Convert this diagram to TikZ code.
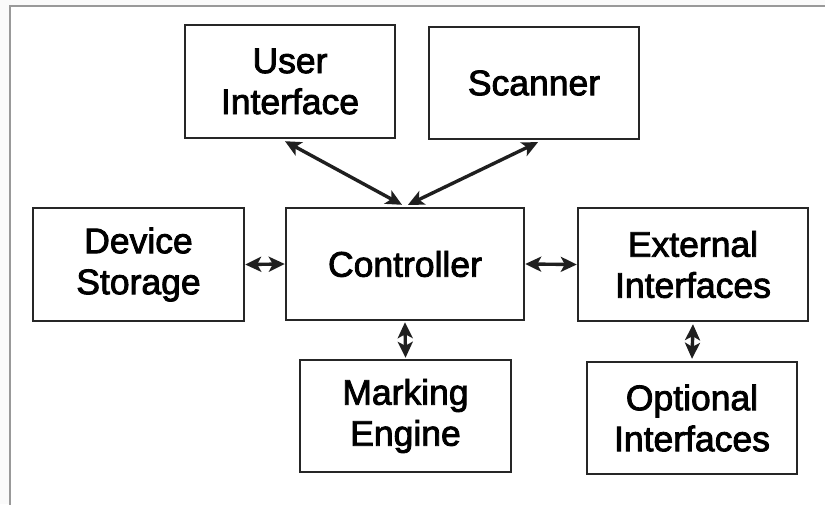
\documentclass[tikz,border=0pt]{standalone}
\usepackage{fontspec}
\setmainfont{Liberation Sans}
\newfontfamily\boxfont[FakeBold=2.4]{Liberation Sans}
\usetikzlibrary{arrows.meta}
\begin{document}
\begin{tikzpicture}[x=1pt,y=-1pt,
  blk/.style={draw=black!85, line width=2.4pt, fill=white, inner sep=0pt,
    align=center, font=\boxfont\fontsize{35.5}{41}\selectfont, text=black},
  arr/.style={line width=3.4pt, draw=black!88, {Stealth[length=16pt,width=15pt,inset=4pt]}-{Stealth[length=16pt,width=15pt,inset=4pt]}}]
\useasboundingbox (0,0) rectangle (825,504);
\fill[white!98!black] (0,0) rectangle (825,504);
\draw[gray!80, line width=2pt, fill=white] (10,6) rectangle (840,520);
\node[blk, minimum width=210pt, minimum height=113pt] (ui) at (290,81.5) {User\\Interface};
\node[blk, minimum width=210pt, minimum height=112pt] (sc) at (534,83) {Scanner};
\node[blk, minimum width=211pt, minimum height=113pt] (ds) at (138.5,264.5) {Device\\Storage};
\node[blk, minimum width=238pt, minimum height=112pt] (ct) at (405,264) {Controller};
\node[blk, minimum width=230pt, minimum height=113pt] (ex) at (693,264.5) {External\\Interfaces};
\node[blk, minimum width=211pt, minimum height=112pt] (me) at (405.5,416) {Marking\\Engine};
\node[blk, minimum width=210pt, minimum height=112pt] (oi) at (692,418) {Optional\\Interfaces};
\draw[arr] ([xshift=-5pt,yshift=-2pt]ui.south) -- ([xshift=-3pt,yshift=2pt]ct.north);
\draw[arr] ([xshift=4pt,yshift=-2pt]sc.south) -- ([xshift=3pt,yshift=2pt]ct.north);
\draw[arr] (ds.east) -- (ct.west);
\draw[arr] (ct.east) -- (ex.west);
\draw[arr] ([yshift=-1pt]ct.south) -- ([yshift=1pt]me.north);
\draw[arr] ([yshift=-2pt]ex.south) -- ([yshift=2pt]oi.north);
\end{tikzpicture}
\end{document}
